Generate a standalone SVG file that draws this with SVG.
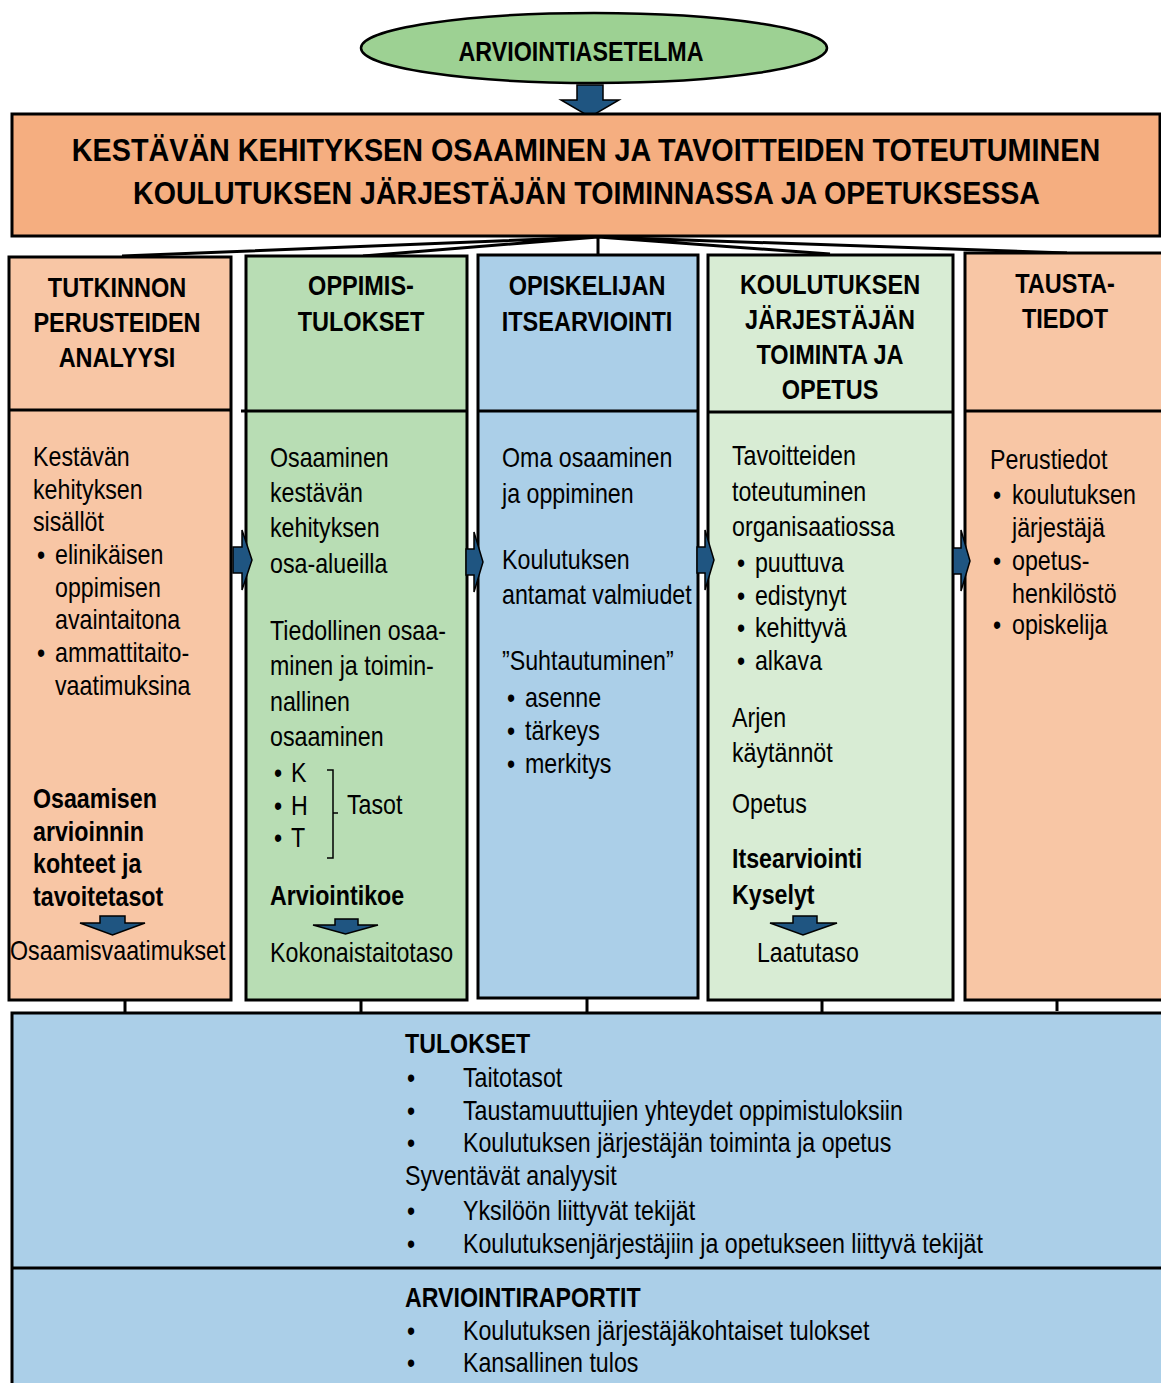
<svg xmlns="http://www.w3.org/2000/svg" width="1161" height="1383" viewBox="0 0 1161 1383">
<style>
text{font-family:"Liberation Sans",Arial,sans-serif;fill:#000}
.r{font-size:27px}
.b{font-size:27px;font-weight:bold}
.h{font-size:28px;font-weight:bold;text-anchor:middle}
.box{stroke:#000;stroke-width:3}
.ln{stroke:#000;stroke-width:3;fill:none}
.arr{fill:#1f5581;stroke:#000;stroke-width:1.5;stroke-linejoin:miter}
</style>
<rect width="1161" height="1383" fill="#fff"/>

<g id="connectors">
<path class="ln" d="M598 237 L122 256 M598 237 L363 256 M598 237 L598 255 M598 237 L830 254 M598 237 L1067 253"/>
<path class="ln" d="M125 1000 V1013 M361 1000 V1013 M587 998 V1013 M822 1000 V1013 M1057 1000 V1011"/>
</g>

<g id="node-arviointiasetelma">
<ellipse cx="594" cy="48" rx="233" ry="35" fill="#9dd193" stroke="#000" stroke-width="2.5"/>
<text x="581" y="61" class="b" font-size="26" text-anchor="middle" textLength="245" lengthAdjust="spacingAndGlyphs">ARVIOINTIASETELMA</text>
</g>
<g id="arrow-top">
<polygon class="arr" points="577,85 603,85 603,100 619,100 590,117 561,100 577,100"/>
</g>

<g id="node-banner">
<rect x="12" y="114" width="1148" height="122" fill="#f5ae80" class="box"/>
<g transform="translate(586,0) scale(0.82,1)">
<text x="0" y="161" font-size="32" font-weight="bold" text-anchor="middle" textLength="1254" lengthAdjust="spacingAndGlyphs">KESTÄVÄN KEHITYKSEN OSAAMINEN JA TAVOITTEIDEN TOTEUTUMINEN</text>
<text x="0.6" y="204" font-size="32" font-weight="bold" text-anchor="middle" textLength="1106" lengthAdjust="spacingAndGlyphs">KOULUTUKSEN JÄRJESTÄJÄN TOIMINNASSA JA OPETUKSESSA</text>
</g>
</g>

<g id="node-col1">
<rect x="9" y="257" width="222" height="743" fill="#f8c6a5" class="box"/>
<path class="ln" d="M9 410 H231"/>
<g transform="translate(117,0) scale(0.84,1)">
<text class="h" x="0" y="297">TUTKINNON</text>
<text class="h" x="0" y="332">PERUSTEIDEN</text>
<text class="h" x="0" y="367">ANALYYSI</text>
</g>
<g transform="translate(33,0) scale(0.86,1)">
<text class="r" x="0" y="466">Kestävän</text>
<text class="r" x="0" y="499">kehityksen</text>
<text class="r" x="0" y="531">sisällöt</text>
<text class="r" x="4.7" y="564">•</text><text class="r" x="25.6" y="564">elinikäisen</text>
<text class="r" x="25.6" y="597">oppimisen</text>
<text class="r" x="25.6" y="629">avaintaitona</text>
<text class="r" x="4.7" y="662">•</text><text class="r" x="25.6" y="662">ammattitaito-</text>
<text class="r" x="25.6" y="695">vaatimuksina</text>
<text class="b" x="0" y="808">Osaamisen</text>
<text class="b" x="0" y="841">arvioinnin</text>
<text class="b" x="0" y="873">kohteet ja</text>
<text class="b" x="0" y="906">tavoitetasot</text>
<text class="r" x="-26.7" y="960">Osaamisvaatimukset</text>
</g>
<polygon class="arr" points="100,916 125,916 125,923 145,923 112.5,935 80,923 100,923"/>
</g>

<g id="node-col2">
<rect x="246" y="256" width="221" height="744" fill="#b8ddb4" class="box"/>
<path class="ln" d="M241 411 H467"/>
<g transform="translate(361,0) scale(0.84,1)">
<text class="h" x="0" y="295">OPPIMIS-</text>
<text class="h" x="0" y="331">TULOKSET</text>
</g>
<g transform="translate(270,0) scale(0.86,1)">
<text class="r" x="0" y="467">Osaaminen</text>
<text class="r" x="0" y="502">kestävän</text>
<text class="r" x="0" y="537">kehityksen</text>
<text class="r" x="0" y="573">osa-alueilla</text>
<text class="r" x="0" y="640">Tiedollinen osaa-</text>
<text class="r" x="0" y="675">minen ja toimin-</text>
<text class="r" x="0" y="711">nallinen</text>
<text class="r" x="0" y="746">osaaminen</text>
<text class="r" x="4.7" y="782">•</text><text class="r" x="24.4" y="782">K</text>
<text class="r" x="4.7" y="815">•</text><text class="r" x="24.4" y="815">H</text>
<text class="r" x="4.7" y="847">•</text><text class="r" x="24.4" y="847">T</text>
<text class="r" x="89.5" y="814">Tasot</text>
<text class="b" x="0" y="905">Arviointikoe</text>
<text class="r" x="0" y="962">Kokonaistaitotaso</text>
</g>
<path d="M327 770 H333 V858 H327 M333 813 H338" fill="none" stroke="#000" stroke-width="1.5"/>
<polygon class="arr" points="335,919 358,919 358,925 378,925 345.5,934 313,925 335,925"/>
</g>

<g id="node-col3">
<rect x="478" y="255" width="220" height="743" fill="#abcfe8" class="box"/>
<path class="ln" d="M478 411 H698"/>
<g transform="translate(587,0) scale(0.84,1)">
<text class="h" x="0" y="295">OPISKELIJAN</text>
<text class="h" x="0" y="331">ITSEARVIOINTI</text>
</g>
<g transform="translate(502,0) scale(0.86,1)">
<text class="r" x="0" y="467">Oma osaaminen</text>
<text class="r" x="0" y="503">ja oppiminen</text>
<text class="r" x="0" y="569">Koulutuksen</text>
<text class="r" x="0" y="604">antamat valmiudet</text>
<text class="r" x="0" y="670">”Suhtautuminen”</text>
<text class="r" x="5.8" y="707">•</text><text class="r" x="26.7" y="707">asenne</text>
<text class="r" x="5.8" y="740">•</text><text class="r" x="26.7" y="740">tärkeys</text>
<text class="r" x="5.8" y="773">•</text><text class="r" x="26.7" y="773">merkitys</text>
</g>
</g>

<g id="node-col4">
<rect x="708" y="255" width="245" height="745" fill="#d8ecd4" class="box"/>
<path class="ln" d="M708 412 H953"/>
<g transform="translate(830,0) scale(0.84,1)">
<text class="h" x="0" y="294">KOULUTUKSEN</text>
<text class="h" x="0" y="329">JÄRJESTÄJÄN</text>
<text class="h" x="0" y="364">TOIMINTA JA</text>
<text class="h" x="0" y="399">OPETUS</text>
</g>
<g transform="translate(732,0) scale(0.86,1)">
<text class="r" x="0" y="465">Tavoitteiden</text>
<text class="r" x="0" y="501">toteutuminen</text>
<text class="r" x="0" y="536">organisaatiossa</text>
<text class="r" x="5.8" y="572">•</text><text class="r" x="26.7" y="572">puuttuva</text>
<text class="r" x="5.8" y="605">•</text><text class="r" x="26.7" y="605">edistynyt</text>
<text class="r" x="5.8" y="637">•</text><text class="r" x="26.7" y="637">kehittyvä</text>
<text class="r" x="5.8" y="670">•</text><text class="r" x="26.7" y="670">alkava</text>
<text class="r" x="0" y="727">Arjen</text>
<text class="r" x="0" y="762">käytännöt</text>
<text class="r" x="0" y="813">Opetus</text>
<text class="b" x="0" y="868">Itsearviointi</text>
<text class="b" x="0" y="904">Kyselyt</text>
<text class="r" x="29" y="962">Laatutaso</text>
</g>
<polygon class="arr" points="793,916 817,916 817,923 837,923 803,935 770,923 793,923"/>
</g>

<g id="node-col5">
<rect x="965" y="253" width="200" height="747" fill="#f8c6a5" class="box"/>
<path class="ln" d="M965 411 H1165"/>
<g transform="translate(1065,0) scale(0.84,1)">
<text class="h" x="0" y="293">TAUSTA-</text>
<text class="h" x="0" y="328">TIEDOT</text>
</g>
<g transform="translate(990,0) scale(0.86,1)">
<text class="r" x="0" y="469">Perustiedot</text>
<text class="r" x="3.5" y="504">•</text><text class="r" x="25.6" y="504">koulutuksen</text>
<text class="r" x="25.6" y="537">järjestäjä</text>
<text class="r" x="3.5" y="570">•</text><text class="r" x="25.6" y="570">opetus-</text>
<text class="r" x="25.6" y="603">henkilöstö</text>
<text class="r" x="3.5" y="634">•</text><text class="r" x="25.6" y="634">opiskelija</text>
</g>
</g>

<g id="side-arrows">
<polygon class="arr" points="233,547 242,547 242,530 252,560 242,590 242,573 233,573"/>
<polygon class="arr" points="466,549 474,549 474,532 483,562 474,592 474,575 466,575"/>
<polygon class="arr" points="697,547 705,547 705,530 714,560 705,590 705,573 697,573"/>
<polygon class="arr" points="953,548 961,548 961,530 970,561 961,591 961,574 953,574"/>
</g>

<g id="node-results">
<rect x="12" y="1013" width="1155" height="380" fill="#abcfe8" class="box"/>
<path class="ln" d="M12 1268 H1165"/>
<g transform="translate(405,0) scale(0.86,1)">
<text class="b" x="0" y="1053">TULOKSET</text>
<text class="r" x="2.3" y="1087">•</text><text class="r" x="67.4" y="1087">Taitotasot</text>
<text class="r" x="2.3" y="1120">•</text><text class="r" x="67.4" y="1120">Taustamuuttujien yhteydet oppimistuloksiin</text>
<text class="r" x="2.3" y="1152">•</text><text class="r" x="67.4" y="1152">Koulutuksen järjestäjän toiminta ja opetus</text>
<text class="r" x="0" y="1185">Syventävät analyysit</text>
<text class="r" x="2.3" y="1220">•</text><text class="r" x="67.4" y="1220">Yksilöön liittyvät tekijät</text>
<text class="r" x="2.3" y="1253">•</text><text class="r" x="67.4" y="1253">Koulutuksenjärjestäjiin ja opetukseen liittyvä tekijät</text>
<text class="b" x="0" y="1307">ARVIOINTIRAPORTIT</text>
<text class="r" x="2.3" y="1340">•</text><text class="r" x="67.4" y="1340">Koulutuksen järjestäjäkohtaiset tulokset</text>
<text class="r" x="2.3" y="1372">•</text><text class="r" x="67.4" y="1372">Kansallinen tulos</text>
</g>
</g>
</svg>
